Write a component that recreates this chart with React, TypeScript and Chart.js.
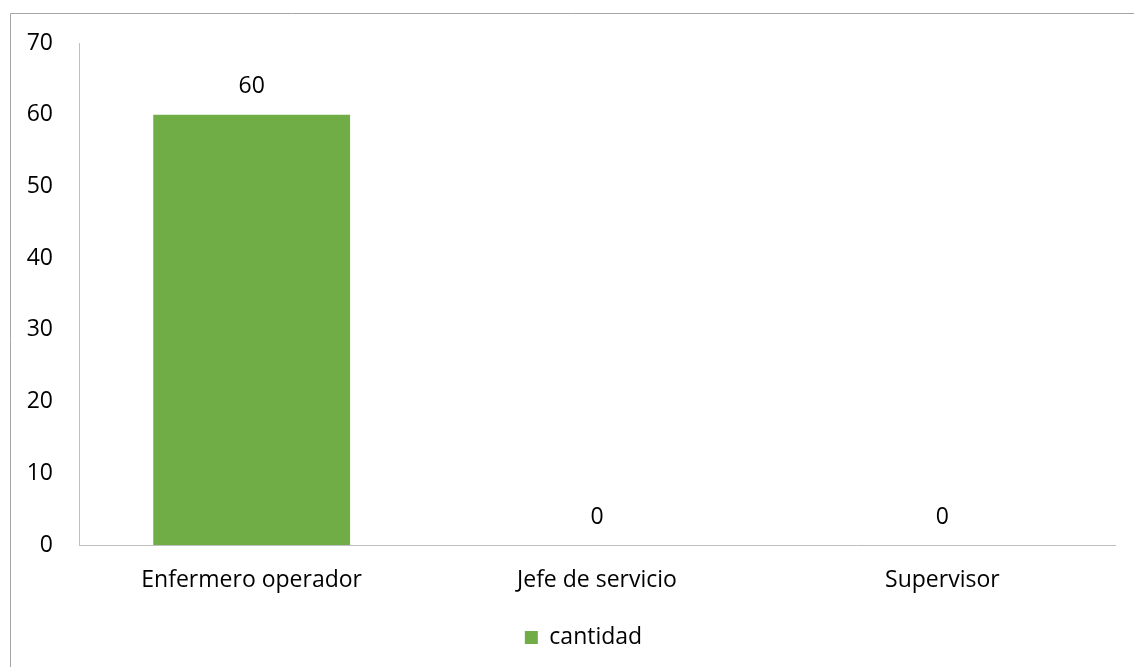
import React, { useEffect, useRef } from "react";
import { Chart, registerables } from "chart.js";

Chart.register(...registerables);

const categories = ["Enfermero operador", "Jefe de servicio", "Supervisor"];
const seriesName = "cantidad";
const values = [60, 0, 0];
const yTicks = [0, 10, 20, 30, 40, 50, 60, 70];

const FONT = "'Open Sans', 'Noto Sans', sans-serif";
const FS = 23;
const BAR = "#70AD47";

const framePlugin = {
  id: "frame",
  beforeDraw(chart: any) {
    const ctx = chart.ctx;
    ctx.save();
    ctx.fillStyle = "#ffffff";
    ctx.fillRect(0, 0, chart.width, chart.height);
    ctx.strokeStyle = "#a6a6a6";
    ctx.lineWidth = 1;
    ctx.beginPath();
    ctx.moveTo(10.5, chart.height);
    ctx.lineTo(10.5, 13.5);
    ctx.lineTo(chart.width, 13.5);
    ctx.stroke();
    ctx.restore();
  },
};

const legendShiftPlugin = {
  id: "legendShift",
  afterLayout(chart: any) {
    const lg = chart.legend;
    if (lg) {
      lg.left += 26;
      lg.right += 26;
    }
  },
};

const labelPlugin = {
  id: "valueLabels",
  afterDatasetsDraw(chart: any) {
    const ctx = chart.ctx;
    const meta = chart.getDatasetMeta(0);
    ctx.save();
    ctx.font = `${FS}px ${FONT}`;
    ctx.fillStyle = "#000000";
    ctx.textAlign = "center";
    ctx.textBaseline = "middle";
    meta.data.forEach((el: any, i: number) => {
      ctx.fillText(String(values[i]), el.x, el.y - 28);
    });
    ctx.restore();
  },
};

export default function App() {
  const ref = useRef<HTMLCanvasElement>(null);
  useEffect(() => {
    if (!ref.current) return;
    const chart = new Chart(ref.current, {
      type: "bar",
      data: {
        labels: categories,
        datasets: [
          {
            label: seriesName,
            data: values,
            backgroundColor: BAR,
            borderWidth: 0,
            categoryPercentage: 0.57,
            barPercentage: 1,
          },
        ],
      },
      plugins: [framePlugin, legendShiftPlugin, labelPlugin],
      options: {
        responsive: false,
        animation: false,
        layout: { padding: { top: 43, right: 19, left: 0, bottom: 8 } },
        plugins: {
          legend: {
            position: "bottom",
            labels: {
              color: "#000000",
              font: { family: FONT, size: FS },
              boxWidth: 13,
              boxHeight: 13,
              padding: 10,
            },
          },
          tooltip: { enabled: false },
        },
        scales: {
          x: {
            grid: { display: false, drawTicks: false },
            border: { display: true, color: "#bfbfbf", width: 1 },
            ticks: {
              color: "#000000",
              font: { family: FONT, size: FS },
              padding: 22,
              maxRotation: 0,
            },
            afterFit(scale: any) {
              scale.height = 71;
            },
          },
          y: {
            min: 0,
            max: 70,
            afterBuildTicks(scale: any) {
              scale.ticks = yTicks.map((v) => ({ value: v }));
            },
            grid: { display: false, drawTicks: false },
            border: { display: true, color: "#bfbfbf", width: 1 },
            ticks: {
              color: "#000000",
              font: { family: FONT, size: FS },
              padding: 26,
            },
            afterFit(scale: any) {
              scale.width = 79;
            },
          },
        },
      },
    } as any);
    return () => chart.destroy();
  }, []);
  return (
    <div style={{ position: "fixed", left: 0, top: 0, width: 1134, height: 667, background: "#fff" }}>
      <canvas ref={ref} width={1134} height={667} style={{ display: "block" }} />
    </div>
  );
}
